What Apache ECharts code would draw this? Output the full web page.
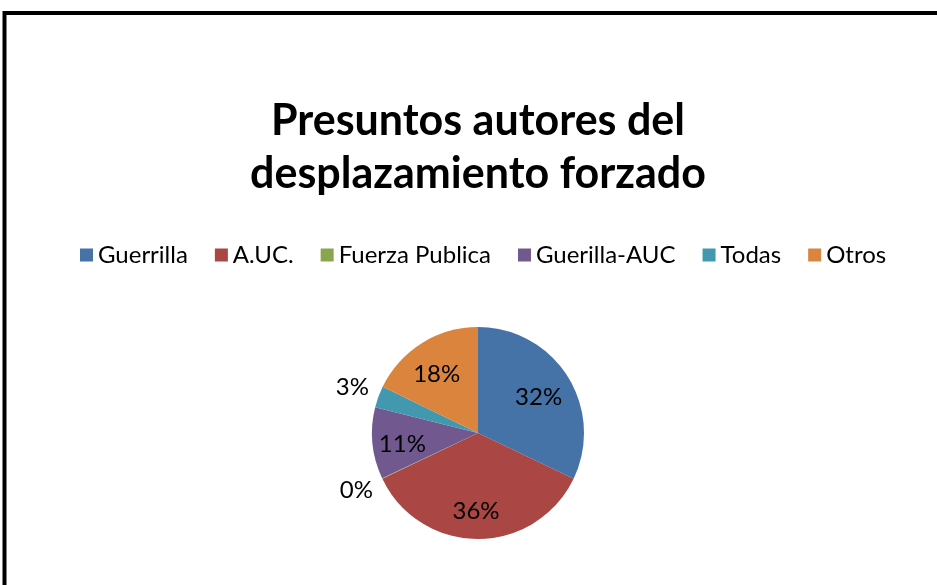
<!DOCTYPE html>
<html>
<head>
<meta charset="utf-8">
<script src="https://cdn.jsdelivr.net/npm/echarts@6/dist/echarts.min.js"></script>
<style>
  html, body { margin: 0; padding: 0; background: #fff; }
  #chart { width: 937px; height: 585px; }
</style>
</head>
<body>
<div id="chart"></div>
<script>
// Data (percent of total)
const categories = ['Guerrilla', 'A.UC.', 'Fuerza Publica', 'Guerilla-AUC', 'Todas', 'Otros'];
const values = [32.1, 35.8, 0.1, 10.9, 3.3, 17.8];
const colors = ['#4572A7', '#AA4643', '#89A54E', '#71588F', '#4198AF', '#DB843D'];
// small slices get their label outside the pie
const outsideLabels = ['Fuerza Publica', 'Todas'];

const pieData = categories.map((name, i) => ({ name: name, value: values[i] }));

const labelData = categories.map((name, i) => {
  const outside = outsideLabels.indexOf(name) >= 0;
  return {
    name: name,
    value: values[i],
    label: outside
      ? { position: 'outside' }
      : { position: 'inside' },
    labelLine: { show: false }
  };
});

let myChart = echarts.init(document.getElementById('chart'));

const option = {
  animation: false,
  color: colors,
  title: {
    text: 'Presuntos autores del\ndesplazamiento forzado',
    left: 473,
    top: 90,
    textAlign: 'center',
    textStyle: {
      fontFamily: 'Lato',
      fontWeight: 'bold',
      fontSize: 43,
      lineHeight: 53,
      color: '#000'
    }
  },
  legend: {
    data: categories,
    top: 238,
    left: 75,
    itemWidth: 13,
    itemHeight: 13,
    itemGap: 27,
    icon: 'rect',
    textStyle: { fontFamily: 'Lato', fontSize: 24, color: '#000' }
  },
  graphic: [
    {
      type: 'rect',
      shape: { x: 4.5, y: 13, width: 2000, height: 2000 },
      style: { fill: 'none', stroke: '#000', lineWidth: 4 },
      silent: true
    }
  ],
  series: [
    {
      // the pie itself
      type: 'pie',
      center: [478, 433],
      radius: 106,
      startAngle: 90,
      clockwise: true,
      data: pieData,
      label: { show: false },
      labelLine: { show: false },
      itemStyle: { borderWidth: 0 }
    },
    {
      // transparent ring that only carries the percent labels
      type: 'pie',
      center: [476, 437],
      radius: [36, 106],
      startAngle: 90,
      clockwise: true,
      silent: true,
      legendHoverLink: false,
      data: labelData,
      itemStyle: { color: 'rgba(0,0,0,0)' },
      labelLine: { show: false, length: 8, length2: 0 },
      label: {
        show: true,
        fontFamily: 'Lato',
        fontSize: 24,
        color: '#000',
        distanceToLabelLine: 0,
        formatter: (p) => Math.round(p.percent) + '%'
      },
      // nudge the two outside labels the way the original sits them
      labelLayout: (p) => {
        if (categories[p.dataIndex] === 'Todas') return { dy: -11 };
        if (categories[p.dataIndex] === 'Fuerza Publica') return { dy: 4 };
        return {};
      }
    }
  ]
};

myChart.setOption(option);
</script>
</body>
</html>
